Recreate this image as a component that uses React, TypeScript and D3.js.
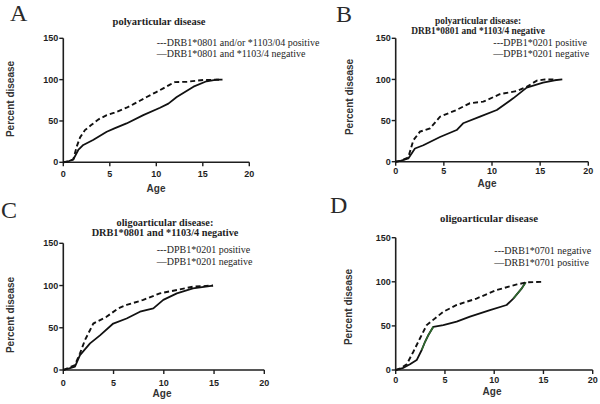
import React from "react";
import * as d3 from "d3";

// ---------- data ----------
const xTicks = [0, 5, 10, 15, 20];
const yTicks = [0, 50, 100, 150];
const xAxisLabel = "Age";
const yAxisLabel = "Percent disease";

const panelLetters = ["A", "B", "C", "D"];

const titleA = ["polyarticular disease"];
const titleB = ["polyarticular disease:", "DRB1*0801 and *1103/4 negative"];
const titleC = ["oligoarticular disease:", "DRB1*0801 and *1103/4 negative"];
const titleD = ["oligoarticular disease"];

const legendA = ["---DRB1*0801 and/or *1103/04 positive", "\u2014DRB1*0801 and *1103/4 negative"];
const legendB = ["---DPB1*0201 positive", "\u2014DPB1*0201 negative"];
const legendC = ["---DPB1*0201 positive", "\u2014DPB1*0201 negative"];
const legendD = ["---DRB1*0701 negative", "\u2014DRB1*0701 positive"];

// Panel A
const aDashAge = [0, 0.5, 1.08, 1.44, 1.8, 2.33, 3.0, 3.8, 4.67, 5.5, 6.8, 7.5, 8.97, 10.0, 10.75, 11.47, 12.0, 13.3, 15.05, 17.1];
const aDashPct = [0, 1, 3.6, 19, 30, 39, 45, 52, 57, 60, 66, 70, 79, 85, 89.5, 94, 97, 97.5, 99.5, 100];
const aSolidAge = [0, 0.5, 1.08, 1.61, 2.15, 3.2, 4.67, 5.5, 6.8, 8.6, 10.4, 11.3, 12.2, 14, 15.4, 16.5, 17.1];
const aSolidPct = [0, 1, 3.6, 14.9, 21, 27, 37, 41, 47, 57, 66, 71, 79, 91.5, 98, 100, 100];

// Panel B
const bDashAge = [0, 0.5, 1.31, 1.83, 2.52, 3.56, 4.6, 6.33, 7.7, 9.1, 10.8, 12.6, 13.6, 14.65, 15.5, 16.4];
const bDashPct = [0, 1, 5.3, 26, 36.5, 40.5, 54.7, 63, 71, 73, 82, 86, 91, 98.5, 100, 100];
const bSolidAge = [0, 0.5, 1.31, 2.0, 2.87, 4.6, 6.33, 7.0, 8.75, 10.5, 12.2, 13.6, 15.3, 16.5, 17.3];
const bSolidPct = [0, 1, 4, 16, 20, 30, 38.5, 46.7, 54.7, 62.8, 77, 90, 96, 99, 100];

// Panel C
const cDashAge = [0, 0.6, 1.16, 1.66, 2.16, 2.99, 4.3, 5.47, 6.3, 7.96, 9.6, 11.3, 12.9, 14.9];
const cDashPct = [0, 3, 5.9, 19.7, 35.5, 55, 63, 73, 77, 83, 90.7, 94.7, 98.6, 100];
const cSolidAge = [0, 0.6, 1.16, 1.66, 2.66, 3.65, 4.97, 6.3, 7.63, 8.96, 9.95, 11.3, 12.9, 14.9];
const cSolidPct = [0, 2, 4, 17.7, 31.5, 41, 55, 61, 69, 73, 83, 90.7, 96.6, 100];

// Panel D
const dDashAge = [0, 0.5, 1.12, 1.79, 2.47, 3.15, 4.83, 6.19, 8.2, 10.25, 12.3, 13.3, 15];
const dDashPct = [0, 2, 6.5, 20.7, 36, 51, 66, 73.7, 81, 90.7, 97, 99.4, 100];
const dSolidAge = [0, 0.7, 1.45, 2.13, 2.64, 2.98, 3.32, 3.82, 4.83, 6.19, 7.54, 9.57, 11.26, 11.94, 12.8, 13.2];
const dSolidPct = [0, 2, 6.5, 11.3, 22.7, 32, 39.7, 49, 51, 54.8, 60.5, 68, 73.7, 81, 92.6, 99.4];
// age ranges of the D solid curve drawn with a green tint
const dGreenRanges = [[2.5, 4.4], [11.3, 13.2]];

// ---------- layout ----------
type Layout = {
  x0: number; x1: number; y0: number; y1: number;
  letterX: number; letterY: number;
  titleX: number; titleY: number; titleSize: number; titleGap: number;
  legX: number; legY: number; legGap: number;
  xLabY: number; ageX: number; ageY: number; pdX: number; pdY: number;
};

const layouts: Layout[] = [
  { x0: 63.3, x1: 249.3, y0: 162.3, y1: 38.3, letterX: 10, letterY: 21, titleX: 159, titleY: 24.5, titleSize: 10.5, titleGap: 10,
    legX: 156.7, legY: 46, legGap: 10.5, xLabY: 176.5, ageX: 156, ageY: 192, pdX: 10, pdY: 99 },
  { x0: 395.7, x1: 588.3, y0: 161.7, y1: 38.3, letterX: 336, letterY: 21.7, titleX: 478, titleY: 24, titleSize: 9.4, titleGap: 10.2,
    legX: 493.3, legY: 46, legGap: 11, xLabY: 173.5, ageX: 487, ageY: 187, pdX: 349, pdY: 97 },
  { x0: 63.3, x1: 264.3, y0: 370, y1: 243.3, letterX: 1, letterY: 218, titleX: 165, titleY: 225.5, titleSize: 10.3, titleGap: 10.8,
    legX: 156.7, legY: 253, legGap: 11.5, xLabY: 385.5, ageX: 162, ageY: 397, pdX: 10, pdY: 315 },
  { x0: 395.7, x1: 592.7, y0: 370, y1: 237.7, letterX: 330, letterY: 213, titleX: 489, titleY: 222, titleSize: 10.8, titleGap: 10,
    legX: 494.3, legY: 254, legGap: 12, xLabY: 383, ageX: 492, ageY: 395, pdX: 348, pdY: 307 },
];

const titles = [titleA, titleB, titleC, titleD];
const legends = [legendA, legendB, legendC, legendD];
const dashSeries = [
  [aDashAge, aDashPct], [bDashAge, bDashPct], [cDashAge, cDashPct], [dDashAge, dDashPct],
];
const solidSeries = [
  [aSolidAge, aSolidPct], [bSolidAge, bSolidPct], [cSolidAge, cSolidPct], [dSolidAge, dSolidPct],
];

const SERIF = "'Liberation Serif', 'DejaVu Serif', serif";
const SANS = "'Liberation Sans', Arial, sans-serif";
const INK = "#1e1e1e";

function zip(a: number[], b: number[]): [number, number][] {
  return a.map((v, i) => [v, b[i]] as [number, number]);
}

function Panel({ idx }: { idx: number }) {
  const L = layouts[idx];
  const x = d3.scaleLinear().domain([0, 20]).range([L.x0, L.x1]);
  const y = d3.scaleLinear().domain([0, 150]).range([L.y0, L.y1]);
  const line = d3.line<[number, number]>().x((d) => x(d[0])).y((d) => y(d[1]));
  const dash = zip(dashSeries[idx][0], dashSeries[idx][1]);
  const solid = zip(solidSeries[idx][0], solidSeries[idx][1]);

  const greens: string[] = [];
  if (idx === 3) {
    for (const [lo, hi] of dGreenRanges) {
      const pts = solid.filter((p) => p[0] >= lo && p[0] <= hi);
      if (pts.length > 1) greens.push(line(pts) || "");
    }
  }

  return (
    <g>
      <text x={L.letterX} y={L.letterY} fontFamily={SERIF} fontSize={24} fill="#2a2a2a">
        {panelLetters[idx]}
      </text>
      {titles[idx].map((t, i) => (
        <text key={i} x={L.titleX} y={L.titleY + i * L.titleGap} textAnchor="middle" fontFamily={SERIF}
          fontWeight="bold" fontSize={L.titleSize} fill={INK}>{t}</text>
      ))}
      {legends[idx].map((t, i) => (
        <text key={i} x={L.legX} y={L.legY + i * L.legGap} fontFamily={SERIF} fontSize={10} fill={INK}>{t}</text>
      ))}
      {/* axes */}
      <line x1={x(0)} x2={x(0)} y1={y(0)} y2={y(150)} stroke={INK} strokeWidth={1.6} />
      <line x1={x(0)} x2={x(20)} y1={y(0)} y2={y(0)} stroke={INK} strokeWidth={1.6} />
      {yTicks.map((t) => (
        <g key={"y" + t}>
          <line x1={x(0) - 4} x2={x(0)} y1={y(t)} y2={y(t)} stroke={INK} strokeWidth={1.4} />
          <text x={x(0) - 5} y={y(t)} dy="0.35em" textAnchor="end" fontFamily={SANS} fontWeight="bold"
            fontSize={9} fill={INK}>{t}</text>
        </g>
      ))}
      {xTicks.map((t) => (
        <g key={"x" + t}>
          <line x1={x(t)} x2={x(t)} y1={y(0)} y2={y(0) + 4} stroke={INK} strokeWidth={1.4} />
          <text x={x(t)} y={L.xLabY} textAnchor="middle" fontFamily={SANS} fontWeight="bold"
            fontSize={9} fill={INK}>{t}</text>
        </g>
      ))}
      <text x={L.ageX} y={L.ageY} textAnchor="middle" fontFamily={SANS} fontWeight="bold" fontSize={10}
        fill="#333">{xAxisLabel}</text>
      <text transform={`translate(${L.pdX},${L.pdY}) rotate(-90)`} textAnchor="middle" dominantBaseline="central"
        fontFamily={SANS} fontWeight="bold" fontSize={10} fill="#333">{yAxisLabel}</text>
      {/* curves */}
      <path d={line(solid) || ""} fill="none" stroke="#111" strokeWidth={1.8} strokeLinejoin="round" />
      {greens.map((g, i) => (
        <path key={i} d={g} fill="none" stroke="#2f6b2f" strokeWidth={1.6} strokeLinejoin="round" />
      ))}
      <path d={line(dash) || ""} fill="none" stroke="#111" strokeWidth={1.9} strokeDasharray="5 3" />
    </g>
  );
}

export default function App() {
  return (
    <svg width={600} height={404} style={{ position: "absolute", left: 0, top: 0, background: "#fff" }}>
      <rect x={0} y={0} width={600} height={404} fill="#fff" />
      {[0, 1, 2, 3].map((i) => (
        <Panel key={i} idx={i} />
      ))}
    </svg>
  );
}
